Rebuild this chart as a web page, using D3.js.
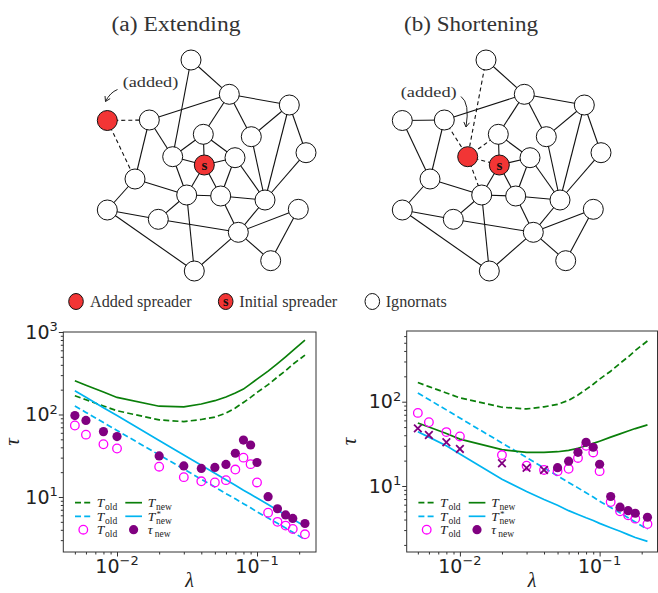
<!DOCTYPE html>
<html>
<head>
<meta charset="utf-8">
<script src="https://cdn.jsdelivr.net/npm/d3@7"></script>
<style>
body { margin: 0; background: #fff; }
</style>
</head>
<body>
<svg id="fig" width="658" height="593"></svg>
<script>
// Data.
var lambda = [0.005, 0.006, 0.008, 0.01, 0.02, 0.03, 0.04, 0.05, 0.06, 0.07, 0.08, 0.09, 0.1, 0.12, 0.14, 0.16, 0.18, 0.22];

// shared by both panels
var tOld     = [169, 151, 127, 111, 86, 82, 87, 93, 104, 120, 140, 161, 185, 230, 285, 340, 405, 525];
var tOldStar = [127, 106, 80, 64, 32.4, 21.8, 16.4, 13.2, 11.0, 9.5, 8.3, 7.4, 6.6, 5.55, 4.8, 4.2, 3.75, 3.05];
var tauOld   = [73.6, 57, 43.6, 38.7, 23.3, 17.4, 15.5, 15.0, 16.0, 21.5, 30, 25, 15.0, 6.45, 5.0, 4.5, 4.1, 3.53];

// (a) extending
var tNewA     = [256, 226, 187, 161, 126, 124, 134, 147, 163, 182, 203, 235, 268, 336, 414, 500, 594, 795];
var tNewStarA = [194, 162, 121, 97, 48.5, 32.3, 24.2, 19.4, 16.2, 13.9, 12.1, 10.8, 9.7, 8.1, 6.9, 6.1, 5.4, 4.4];
var tauNewA   = [97, 84.7, 62, 54, 31.5, 23.8, 22.2, 22.8, 24.8, 33.9, 49, 42.7, 26.2, 10.1, 7.2, 6.07, 5.5, 4.77];

// (b) shortening
var tNewB     = [56, 50, 42, 36, 27, 25, 25, 25.5, 26.5, 28, 30, 32, 34, 38, 41.5, 45, 48, 53];
var tNewStarB = [44, 38, 30, 24, 12, 8.6, 6.9, 5.9, 5.1, 4.6, 4.2, 3.9, 3.6, 3.2, 2.9, 2.65, 2.45, 2.2];
var tauNewB   = [48.3, 40.3, 33, 27.5, 18.6, 16.4, 15.5, 16.5, 19.7, 25.1, 33, 28.8, 18.1, 7.5, 5.6, 5.1, 4.75, 4.26];
var markerB   = ["x", "x", "x", "x", "x", "x", "x", "o", "o", "o", "o", "o", "o", "o", "o", "o", "o", "o"];

// Network diagram (same layout in both panels)
var netNodes = [[191, 60], [229.3, 94.3], [289.3, 105], [107.3, 120.5], [149.3, 120], [203.3, 134.3],
    [251.3, 136.7], [306, 152.7], [172.7, 156.7], [204.3, 165], [235, 157.7], [135, 179], [186.7, 195],
    [220.7, 196], [265, 200], [107.3, 210], [158.3, 219.3], [298.3, 209.3], [238.3, 232.3], [270.7, 260.7],
    [194.3, 271]];
var netEdges = [[0, 8], [0, 1], [1, 4], [1, 2], [1, 5], [1, 6], [2, 6], [2, 7], [2, 14], [6, 14], [7, 14],
    [3, 4], [3, 11], [4, 8], [4, 11], [5, 8], [5, 9], [5, 10], [8, 9], [8, 12], [9, 10], [9, 12], [9, 13],
    [10, 13], [10, 14], [11, 12], [11, 15], [12, 13], [12, 16], [12, 20], [13, 14], [13, 18], [14, 18],
    [15, 16], [15, 20], [16, 18], [17, 18], [17, 19], [18, 19], [18, 20]];
var seedNode = 9;

var legendLabels = ["Added spreader", "Initial spreader", "Ignornats"];

var RED = "#f23535", GREEN = "#0a7f0a", CYAN = "#00b4f0", PINK = "#ff00ff", PURPLE = "#800080";
var SERIF = "'Liberation Serif', 'DejaVu Serif', serif";
var SANS = "'DejaVu Sans', sans-serif";

var svg = d3.select("#fig");
svg.append("rect").attr("width", 658).attr("height", 593).attr("fill", "#fff");

// Draw one network panel.
function drawNet (dx, addedNode, title, titleWidth) {
    var g = svg.append("g").attr("transform", "translate(" + dx + ",0)");
    g.append("text").text(title)
        .attr("x", 176).attr("y", 31).attr("text-anchor", "middle")
        .attr("font-family", SERIF).attr("font-size", 20).attr("fill", "#333")
        .attr("textLength", titleWidth).attr("lengthAdjust", "spacingAndGlyphs");
    g.selectAll("line.edge").data(netEdges).enter().append("line")
        .attr("class", "edge")
        .attr("x1", function (e) { return netNodes[e[0]][0]; })
        .attr("y1", function (e) { return netNodes[e[0]][1]; })
        .attr("x2", function (e) { return netNodes[e[1]][0]; })
        .attr("y2", function (e) { return netNodes[e[1]][1]; })
        .attr("stroke", "#111").attr("stroke-width", 1.1)
        .attr("stroke-dasharray", function (e) {
            return (e[0] == addedNode || e[1] == addedNode) ? "4,3" : null;
        });
    g.selectAll("circle.node").data(netNodes).enter().append("circle")
        .attr("class", "node")
        .attr("cx", function (d) { return d[0]; })
        .attr("cy", function (d) { return d[1]; })
        .attr("r", 10)
        .attr("fill", function (d, i) { return (i == addedNode || i == seedNode) ? RED : "#fff"; })
        .attr("stroke", "#111").attr("stroke-width", 1);
    g.append("text").text("s")
        .attr("x", netNodes[seedNode][0]).attr("y", netNodes[seedNode][1] + 4.5)
        .attr("text-anchor", "middle").attr("font-family", SERIF)
        .attr("font-weight", "bold").attr("font-size", 15).attr("fill", "#111");
    return g;
}

function arrowHead (g, tip, from) {
    var ang = Math.atan2(tip[1] - from[1], tip[0] - from[0]);
    var len = 5.5;
    var p1 = [tip[0] - len * Math.cos(ang - 0.55), tip[1] - len * Math.sin(ang - 0.55)];
    var p2 = [tip[0] - len * Math.cos(ang + 0.55), tip[1] - len * Math.sin(ang + 0.55)];
    g.append("path")
        .attr("d", "M" + p1 + "L" + tip + "L" + p2)
        .attr("fill", "none").attr("stroke", "#222").attr("stroke-width", 1);
}

var netA = drawNet(0, 3, "(a) Extending", 129);
netA.append("text").text("(added)")
    .attr("x", 122.7).attr("y", 86.5)
    .attr("font-family", SERIF).attr("font-size", 15).attr("fill", "#333")
    .attr("textLength", 55.6).attr("lengthAdjust", "spacingAndGlyphs");
netA.append("path").attr("d", "M117.5,89.5 Q110,92.5 105.5,101.5")
    .attr("fill", "none").attr("stroke", "#222").attr("stroke-width", 1);
arrowHead(netA, [105.5, 101.5], [110, 92.5]);

var netB = drawNet(295, 8, "(b) Shortening", 134);
netB.append("text").text("(added)")
    .attr("x", 105.7).attr("y", 96.5)
    .attr("font-family", SERIF).attr("font-size", 15).attr("fill", "#333")
    .attr("textLength", 56).attr("lengthAdjust", "spacingAndGlyphs");
netB.append("path").attr("d", "M166,96.5 Q175,103 171,127")
    .attr("fill", "none").attr("stroke", "#222").attr("stroke-width", 1);
arrowHead(netB, [171, 127], [174, 106]);

// Legend under the networks
var legX = [76, 225.7, 372.3];
var legTextX = [90, 239.3, 385.7];
var legTextW = [101.7, 98, 61];
var legFill = [RED, RED, "#fff"];
legendLabels.forEach(function (lab, i) {
    svg.append("ellipse").attr("cx", legX[i]).attr("cy", 301.5).attr("rx", 7.3).attr("ry", 8)
        .attr("fill", legFill[i]).attr("stroke", "#111").attr("stroke-width", 1);
    svg.append("text").text(lab)
        .attr("x", legTextX[i]).attr("y", 306.8)
        .attr("font-family", SERIF).attr("font-size", 17).attr("fill", "#333")
        .attr("textLength", legTextW[i]).attr("lengthAdjust", "spacingAndGlyphs");
});
svg.append("text").text("s")
    .attr("x", legX[1]).attr("y", 305.5).attr("text-anchor", "middle")
    .attr("font-family", SERIF).attr("font-weight", "bold").attr("font-size", 14).attr("fill", "#111");

// Draw one log-log panel.
function drawPanel (p) {
    var x = d3.scaleLog().domain(p.xDom).range([p.x0, p.x1]);
    var y = d3.scaleLog().domain(p.yDom).range([p.y1, p.y0]);
    var g = svg.append("g");

    var isPow = function (v) { return Math.abs(Math.log10(v) - Math.round(Math.log10(v))) < 1e-6; };
    var xMinor = x.ticks().filter(function (v) { return !isPow(v); });
    var yMinor = y.ticks().filter(function (v) { return !isPow(v); });
    var xMajor = x.ticks().filter(isPow);
    var yMajor = y.ticks().filter(isPow);

    var noDomain = function (a) { a.select(".domain").remove(); a.selectAll("line").attr("stroke", "#333"); };
    g.append("g").attr("transform", "translate(0," + p.y1 + ")")
        .call(d3.axisBottom(x).tickValues(xMinor).tickSize(2.5).tickFormat("")).call(noDomain);
    g.append("g").attr("transform", "translate(0," + p.y1 + ")")
        .call(d3.axisBottom(x).tickValues(xMajor).tickSize(4.5).tickFormat("")).call(noDomain);
    g.append("g").attr("transform", "translate(" + p.x0 + ",0)")
        .call(d3.axisLeft(y).tickValues(yMinor).tickSize(2.5).tickFormat("")).call(noDomain);
    g.append("g").attr("transform", "translate(" + p.x0 + ",0)")
        .call(d3.axisLeft(y).tickValues(yMajor).tickSize(4.5).tickFormat("")).call(noDomain);

    xMajor.forEach(function (v) {
        var t = g.append("text").attr("x", x(v)).attr("y", p.y1 + 20.5)
            .attr("text-anchor", "middle").attr("font-family", SANS).attr("fill", "#222");
        t.append("tspan").attr("font-size", 19).text("10");
        t.append("tspan").attr("font-size", 13).attr("dy", -8).text("\u2212" + Math.round(-Math.log10(v)));
    });
    yMajor.forEach(function (v) {
        var t = g.append("text").attr("x", p.x0 - 5.5).attr("y", y(v) + 6.7)
            .attr("text-anchor", "end").attr("font-family", SANS).attr("fill", "#222");
        t.append("tspan").attr("font-size", 19).text("10");
        t.append("tspan").attr("font-size", 13).attr("dy", -7.5).text(Math.round(Math.log10(v)));
    });

    // axis labels
    g.append("text").text("\u03bb").attr("x", (p.x0 + p.x1) / 2).attr("y", 587)
        .attr("text-anchor", "middle").attr("font-family", SERIF).attr("font-style", "italic")
        .attr("font-size", 20).attr("fill", "#222");
    g.append("text").text("\u03c4")
        .attr("transform", "translate(" + p.ylabX + "," + ((p.y0 + p.y1) / 2) + ") rotate(-90)")
        .attr("text-anchor", "middle").attr("font-family", SERIF).attr("font-style", "italic")
        .attr("font-size", 21).attr("fill", "#222");

    var clip = "clip" + p.id;
    g.append("clipPath").attr("id", clip).append("rect")
        .attr("x", p.x0).attr("y", p.y0).attr("width", p.x1 - p.x0).attr("height", p.y1 - p.y0);
    var plot = g.append("g").attr("clip-path", "url(#" + clip + ")");

    var line = function (vals) {
        return d3.line().x(function (d, i) { return x(lambda[i]); }).y(function (d) { return y(d); })(vals);
    };
    var series = [
        { v: tOld, c: GREEN, dash: "6,3.2" },
        { v: tOldStar, c: CYAN, dash: "6,3.2" },
        { v: p.tNew, c: GREEN, dash: null },
        { v: p.tNewStar, c: CYAN, dash: null }
    ];
    series.forEach(function (s) {
        plot.append("path").attr("d", line(s.v)).attr("fill", "none")
            .attr("stroke", s.c).attr("stroke-width", 1.7).attr("stroke-dasharray", s.dash);
    });

    plot.selectAll("circle.old").data(tauOld).enter().append("circle")
        .attr("cx", function (d, i) { return x(lambda[i]); })
        .attr("cy", function (d) { return y(d); })
        .attr("r", 4.3).attr("fill", "none").attr("stroke", PINK).attr("stroke-width", 1.3);

    p.tauNew.forEach(function (d, i) {
        var cx = x(lambda[i]), cy = y(d);
        if (p.marker[i] == "x") {
            var s = 3.8;
            plot.append("path")
                .attr("d", "M" + (cx - s) + "," + (cy - s) + "L" + (cx + s) + "," + (cy + s) +
                           "M" + (cx - s) + "," + (cy + s) + "L" + (cx + s) + "," + (cy - s))
                .attr("stroke", PURPLE).attr("stroke-width", 1.8);
        } else {
            plot.append("circle").attr("cx", cx).attr("cy", cy).attr("r", 4.6).attr("fill", PURPLE);
        }
    });

    g.append("rect").attr("x", p.x0).attr("y", p.y0)
        .attr("width", p.x1 - p.x0).attr("height", p.y1 - p.y0)
        .attr("fill", "none").attr("stroke", "#333").attr("stroke-width", 1);

    // legend
    var rows = [502.7, 516.3, 529.7];
    var hx = [p.x0 + 11.7, p.x0 + 62];
    var tx = [p.x0 + 33.4, p.x0 + 84.5];
    var entries = [
        { col: 0, row: 0, kind: "line", c: GREEN, dash: "6,3.2", sym: "T", sub: "old" },
        { col: 0, row: 1, kind: "line", c: CYAN, dash: "6,3.2", sym: "T", sub: "old" },
        { col: 0, row: 2, kind: "open", c: PINK, sym: "T", sub: "old" },
        { col: 1, row: 0, kind: "line", c: GREEN, dash: null, sym: "T", sub: "new" },
        { col: 1, row: 1, kind: "line", c: CYAN, dash: null, sym: "T", sub: "new", sup: "*" },
        { col: 1, row: 2, kind: "fill", c: PURPLE, sym: "\u03c4", sub: "new" }
    ];
    entries.forEach(function (e) {
        var yy = rows[e.row], x0 = hx[e.col];
        if (e.kind == "line") {
            g.append("line").attr("x1", x0).attr("x2", x0 + 16.7).attr("y1", yy).attr("y2", yy)
                .attr("stroke", e.c).attr("stroke-width", 1.7).attr("stroke-dasharray", e.dash);
        } else if (e.kind == "open") {
            g.append("circle").attr("cx", x0 + 8.3).attr("cy", yy).attr("r", 4.3)
                .attr("fill", "none").attr("stroke", e.c).attr("stroke-width", 1.3);
        } else {
            g.append("circle").attr("cx", x0 + 8.3).attr("cy", yy).attr("r", 4.6).attr("fill", e.c);
        }
        var bx = tx[e.col], by = yy + 4.5;
        g.append("text").text(e.sym).attr("x", bx).attr("y", by)
            .attr("font-family", SERIF).attr("font-style", "italic").attr("font-size", 13.5).attr("fill", "#222");
        var off = e.sym == "T" ? 8.3 : 7;
        g.append("text").text(e.sub).attr("x", bx + off).attr("y", by + 2.8)
            .attr("font-family", SERIF).attr("font-size", 9.5).attr("fill", "#222");
        if (e.sup) {
            g.append("text").text(e.sup).attr("x", bx + off + 0.5).attr("y", by - 4)
                .attr("font-family", SERIF).attr("font-size", 9).attr("fill", "#222");
        }
    });
}

var allCircles = lambda.map(function () { return "o"; });

drawPanel({
    id: "A", x0: 63.3, x1: 316, y0: 332, y1: 552, ylabX: 18.5,
    xDom: [0.004134, 0.2638], yDom: [2.154, 1000],
    tNew: tNewA, tNewStar: tNewStarA, tauNew: tauNewA, marker: allCircles
});
drawPanel({
    id: "B", x0: 406.7, x1: 657.5, y0: 331, y1: 552, ylabX: 356,
    xDom: [0.004161, 0.2596], yDom: [1.648, 689.7],
    tNew: tNewB, tNewStar: tNewStarB, tauNew: tauNewB, marker: markerB
});
</script>
</body>
</html>
